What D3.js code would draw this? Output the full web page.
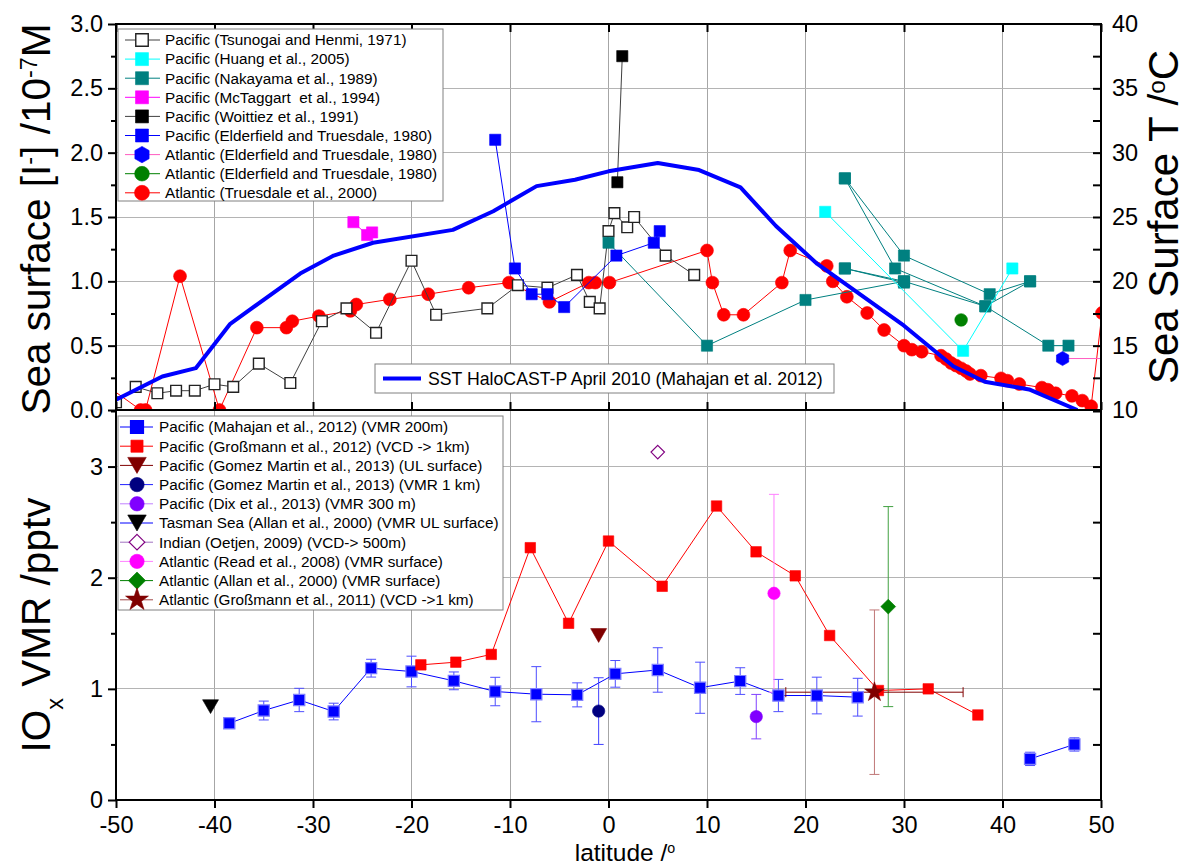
<!DOCTYPE html>
<html>
<head>
<meta charset="utf-8">
<script src="https://cdn.jsdelivr.net/npm/d3@7"></script>
<style>
  body { margin: 0; background: #fff; }
  svg { display: block; font-family: "Liberation Sans", Arial, Helvetica, sans-serif; }
</style>
</head>
<body>
<svg id="chart" width="1188" height="866"></svg>
<script>
// ---------------- data ----------------
// axis ticks
const latTicks = [-50, -40, -30, -20, -10, 0, 10, 20, 30, 40, 50];
const iodideTicks = [0, 0.5, 1.0, 1.5, 2.0, 2.5, 3.0];
const iodideMinor = [0.25, 0.75, 1.25, 1.75, 2.25, 2.75];
const sstTicks = [10, 15, 20, 25, 30, 35, 40];
const sstMinor = [12.5, 17.5, 22.5, 27.5, 32.5, 37.5];
const ioxTicks = [0, 1, 2, 3];
const ioxMinor = [0.5, 1.5, 2.5, 3.5];

// upper panel: sea-surface iodide [lat, 1e-7 M]
const tsunogai1971 = [[-50,0.06],[-48,0.18],[-45.8,0.13],[-43.9,0.15],[-42,0.15],[-40,0.2],[-38.1,0.18],
  [-35.5,0.36],[-32.3,0.21],[-29.1,0.69],[-26.6,0.79],[-23.6,0.6],[-20,1.16],[-17.5,0.74],[-12.3,0.79],
  [-9.2,0.97],[-6.2,0.95],[-3.2,1.05],[-1.9,0.84],[-0.9,0.79],[0,1.39],[0.6,1.53],[1.9,1.42],[2.6,1.5],
  [5.8,1.2],[8.7,1.05]];
const huang2005 = [[22,1.54],[36,0.46],[41,1.1]];
const nakayama1989 = [
  [[0,1.3],[10,0.5],[20,0.855],[30,1.0]],
  [[24,1.8],[29.1,1.1],[38.26,0.806],[42.8,1.0]],
  [[24,1.8],[30,1.2],[38.7,0.9],[42.8,1.0]],
  [[24,1.1],[30,1.0],[38.26,0.806],[44.65,0.5],[46.7,0.5]],
  [[24,1.1],[30,0.99]]
];
const mctaggart1994 = [[-25.9,1.46],[-24.5,1.36],[-24.0,1.38]];
const woittiez1991 = [[0.9,1.77],[1.4,2.75]];
const elderfieldPacific = [[-11.5,2.1],[-9.5,1.1],[-7.8,0.9],[-6.2,0.9],[-4.5,0.8],[0.8,1.2],[4.6,1.3],[5.2,1.39]];
const elderfieldAtlanticHex = [[46.1,0.4],[52,0.4]];
const elderfieldAtlanticDot = [[35.8,0.7]];
const truesdale2000 = [[-50.6,0.17],[-47.5,0],[-47.0,0],[-43.5,1.04],[-39.5,0],[-35.7,0.64],[-32.7,0.64],
  [-32.1,0.69],[-29.4,0.73],[-26.2,0.77],[-25.6,0.82],[-22.2,0.86],[-18.3,0.9],[-14.2,0.95],[-10.1,0.99],
  [-6.0,0.84],[-2.0,0.99],[-1.35,0.99],[0.1,0.99],[10.0,1.24],[10.55,0.99],[11.7,0.74],[13.7,0.74],
  [17.6,0.99],[18.45,1.24],[22.16,1.12],[22.77,1.0],[24.2,0.88],[26.26,0.754],[27.98,0.622],[30.0,0.5],
  [30.8,0.469],[31.8,0.453],[33.76,0.422],[34.27,0.396],[34.78,0.365],[35.29,0.345],[35.8,0.324],
  [36.3,0.303],[36.7,0.28],[37.8,0.267],[39.85,0.246],[40.5,0.228],[41.7,0.202],[44.0,0.174],[44.6,0.158],
  [45.4,0.13],[47.05,0.11],[48.1,0.073],[49.0,0.029],[50.1,0.754]];
// sea-surface temperature along the cruise [lat, deg C]
const sstHaloCAST = [[-50,10.8],[-45.3,12.6],[-41.9,13.25],[-38.4,16.7],[-31.3,20.6],[-27.9,22.0],[-23.9,23.0],
  [-15.8,24.0],[-11.7,25.45],[-7.3,27.4],[-3.4,27.9],[0,28.55],[5,29.2],[9.2,28.65],[13.4,27.3],[17,24.3],
  [21.2,21.35],[30,16.55],[35,13.4],[38.2,12.2],[42.7,11.6],[47.6,10.0]];

// lower panel: IOx mixing ratios [lat, pptv, error]
const mahajan2012 = [[-38.5,0.69,0],[-35.0,0.805,0.085],[-31.4,0.9,0.105],[-27.9,0.796,0.075],[-24.1,1.186,0.08],
  [-20.0,1.156,0.138],[-15.7,1.072,0.08],[-11.5,0.976,0.128],[-7.33,0.952,0.248],[-3.18,0.946,0.108],
  [0.69,1.135,0.12],[5.0,1.17,0.2],[9.3,1.01,0.23],[13.37,1.07,0.12],[17.25,0.94,0.145],[21.15,0.94,0.165],
  [25.3,0.925,0.17],null,[42.8,0.37,0.06],[47.3,0.5,0.06]];
const grossmann2012 = [[-19.05,1.216],[-15.5,1.24],[-11.9,1.31],[-7.94,2.27],[-4.05,1.59],[0,2.33],[5.45,1.923],
  [10.97,2.645],[14.98,2.233],[18.96,2.017],[22.45,1.48],[27.4,0.985],[32.46,1.0],[37.5,0.765]];
const gomezMartinUL = [[-1.0,1.48]];
const gomezMartin1km = [[-1.0,0.8,0.5,1.1]];      // lat, value, lower, upper
const dix2013 = [[15.0,0.75,0.2]];
const allanTasman = [[-40.4,0.84]];
const oetjen2009 = [[5.0,3.13]];
const read2008 = [[16.8,1.86,0.89]];
const allanAtlantic = [[28.4,1.74,0.9]];
const grossmann2011 = [[27.0,0.97,0.74,9.0]];     // lat, value, y error, lat error

const topLegendLabels = [
  "Pacific (Tsunogai and Henmi, 1971)", "Pacific (Huang et al., 2005)", "Pacific (Nakayama et al., 1989)",
  "Pacific (McTaggart  et al., 1994)", "Pacific (Woittiez et al., 1991)", "Pacific (Elderfield and Truesdale, 1980)",
  "Atlantic (Elderfield and Truesdale, 1980)", "Atlantic (Elderfield and Truesdale, 1980)", "Atlantic (Truesdale et al., 2000)"];
const bottomLegendLabels = [
  "Pacific (Mahajan et al., 2012) (VMR 200m)", "Pacific (Großmann et al., 2012) (VCD -> 1km)",
  "Pacific (Gomez Martin et al., 2013) (UL surface)", "Pacific (Gomez Martin et al., 2013) (VMR 1 km)",
  "Pacific (Dix et al., 2013) (VMR 300 m)", "Tasman Sea (Allan et al., 2000) (VMR UL surface)",
  "Indian (Oetjen, 2009) (VCD-> 500m)", "Atlantic (Read et al., 2008) (VMR surface)",
  "Atlantic (Allan et al., 2000) (VMR surface)", "Atlantic (Großmann et al., 2011) (VCD ->1 km)"];
const sstLegendLabel = "SST HaloCAST-P April 2010 (Mahajan et al. 2012)";

// ---------------- layout ----------------
const svg = d3.select("#chart");
const X0 = 116, X1 = 1101, YT = 24, YM = 410, YB = 800;
const x = d3.scaleLinear().domain([-50, 50]).range([X0, X1]);
const yI = d3.scaleLinear().domain([0, 3]).range([YM, YT]);
const yT = d3.scaleLinear().domain([10, 40]).range([YM, YT]);
const yV = d3.scaleLinear().domain([0, 3.5]).range([YB, 411]);

// marker shapes
const hexagon = { draw(ctx, size) {
  const r = Math.sqrt(size / 2.598);
  for (let i = 0; i < 6; i++) { const a = Math.PI / 2 + i * Math.PI / 3;
    const px = r * Math.cos(a), py = r * Math.sin(a); i ? ctx.lineTo(px, py) : ctx.moveTo(px, py); }
  ctx.closePath(); } };
const triangleDown = { draw(ctx, size) {
  const s = Math.sqrt(size * 4 / Math.sqrt(3)), h = s * Math.sqrt(3) / 2;
  ctx.moveTo(-s / 2, -h / 2); ctx.lineTo(s / 2, -h / 2); ctx.lineTo(0, h / 2); ctx.closePath(); } };
const rhombus = { draw(ctx, size) {
  const r = Math.sqrt(size / 2);
  ctx.moveTo(0, -r); ctx.lineTo(r, 0); ctx.lineTo(0, r); ctx.lineTo(-r, 0); ctx.closePath(); } };

const st = {
  tsunogai:  { line: "#404040", sym: d3.symbolSquare, size: 115, fill: "#fff", stroke: "#222", sw: 1.4 },
  huang:     { line: "#00ffff", sym: d3.symbolSquare, size: 125, fill: "#00ffff" },
  nakayama:  { line: "#008080", sym: d3.symbolSquare, size: 125, fill: "#008080" },
  mctaggart: { line: "#ff00ff", sym: d3.symbolSquare, size: 125, fill: "#ff00ff" },
  woittiez:  { line: "#404040", sym: d3.symbolSquare, size: 125, fill: "#000" },
  elderPac:  { line: "#0000ff", sym: d3.symbolSquare, size: 125, fill: "#0000ff" },
  elderHex:  { line: "#ff5cc0", sym: hexagon, size: 130, fill: "#0000ff" },
  elderDot:  { line: "#008000", sym: d3.symbolCircle, size: 125, fill: "#008000" },
  truesdale: { line: "#ff0000", sym: d3.symbolCircle, size: 130, fill: "#ff0000" },
  mahajan:   { line: "#0000ff", sym: d3.symbolSquare, size: 125, fill: "#0000ff", stroke: "#8080ff", sw: 1.2, err: "#4d4dff" },
  gross12:   { line: "#ff0000", sym: d3.symbolSquare, size: 110, fill: "#ff0000" },
  gomezUL:   { line: "#800000", sym: triangleDown, size: 110, fill: "#800000" },
  gomez1km:  { line: "#2020ff", sym: d3.symbolCircle, size: 120, fill: "#000080", err: "#4040ff" },
  dix:       { line: "#c080ff", sym: d3.symbolCircle, size: 120, fill: "#8000ff", err: "#8040ff" },
  tasman:    { line: "#0000ff", sym: triangleDown, size: 110, fill: "#000" },
  oetjen:    { line: "#a070c0", sym: rhombus, size: 90, fill: "#fff", stroke: "#800080", sw: 1.2 },
  read:      { line: "#ff80ff", sym: d3.symbolCircle, size: 120, fill: "#ff00ff", err: "#ff80ff" },
  allan:     { line: "#008000", sym: rhombus, size: 110, fill: "#008000", err: "#40a040" },
  gross11:   { line: "#a04848", sym: d3.symbolStar, size: 120, fill: "#800000", err: "#c07878", errX: "#800000" }
};

// ---------------- grid ----------------
const grid = svg.append("g").attr("shape-rendering", "crispEdges");
latTicks.slice(1, -1).forEach(v => grid.append("line")
  .attr("x1", x(v)).attr("x2", x(v)).attr("y1", YT).attr("y2", YB).attr("stroke", "#a6a6a6"));
iodideTicks.slice(1, -1).forEach(v => grid.append("line")
  .attr("x1", X0).attr("x2", X1).attr("y1", yI(v)).attr("y2", yI(v)).attr("stroke", "#b4b4b4"));
[1, 2, 3].forEach(v => grid.append("line")
  .attr("x1", X0).attr("x2", X1).attr("y1", yV(v)).attr("y2", yV(v)).attr("stroke", "#b4b4b4"));

// clipping
const defs = svg.append("defs");
defs.append("clipPath").attr("id", "clipTop").append("rect").attr("x", X0).attr("y", YT).attr("width", X1 - X0).attr("height", YM - YT);
defs.append("clipPath").attr("id", "clipBot").append("rect").attr("x", X0).attr("y", YM).attr("width", X1 - X0).attr("height", YB - YM);

function drawLine(g, pts, ys, s, lw) {
  g.append("path").datum(pts)
    .attr("d", d3.line().defined(d => d != null).x(d => x(d[0])).y(d => ys(d[1])))
    .attr("fill", "none").attr("stroke", s.line).attr("stroke-width", lw || 1);
}
function drawMarks(g, pts, ys, s) {
  g.selectAll(null).data(pts.filter(d => d != null)).join("path")
    .attr("transform", d => `translate(${x(d[0])},${ys(d[1])})`)
    .attr("d", d3.symbol().type(s.sym).size(s.size))
    .attr("fill", s.fill).attr("stroke", s.stroke || s.fill).attr("stroke-width", s.sw || 0.6);
}
function drawSeries(g, pts, ys, s) { drawLine(g, pts, ys, s); drawMarks(g, pts, ys, s); }
function vErr(g, lat, lo, hi, ys, color) {
  const px = x(lat);
  g.append("line").attr("x1", px).attr("x2", px).attr("y1", ys(lo)).attr("y2", ys(hi)).attr("stroke", color);
  [lo, hi].forEach(v => g.append("line").attr("x1", px - 5).attr("x2", px + 5)
    .attr("y1", ys(v)).attr("y2", ys(v)).attr("stroke", color));
}

// ---------------- upper panel ----------------
const topG = svg.append("g").attr("clip-path", "url(#clipTop)");
drawSeries(topG, truesdale2000, yI, st.truesdale);
drawSeries(topG, tsunogai1971, yI, st.tsunogai);
nakayama1989.forEach(track => drawLine(topG, track, yI, st.nakayama));
drawMarks(topG, nakayama1989.flat(), yI, st.nakayama);
drawSeries(topG, huang2005, yI, st.huang);
drawSeries(topG, mctaggart1994, yI, st.mctaggart);
drawSeries(topG, elderfieldPacific, yI, st.elderPac);
drawSeries(topG, elderfieldAtlanticHex, yI, st.elderHex);
drawSeries(topG, elderfieldAtlanticDot, yI, st.elderDot);
drawSeries(topG, woittiez1991, yI, st.woittiez);
topG.append("path").datum(sstHaloCAST)
  .attr("d", d3.line().x(d => x(d[0])).y(d => yT(d[1])))
  .attr("fill", "none").attr("stroke", "#0000ff").attr("stroke-width", 4).attr("stroke-linejoin", "round");

// ---------------- lower panel ----------------
const botG = svg.append("g").attr("clip-path", "url(#clipBot)");
mahajan2012.filter(d => d && d[2] > 0).forEach(d => vErr(botG, d[0], d[1] - d[2], d[1] + d[2], yV, st.mahajan.err));
drawLine(botG, mahajan2012, yV, st.mahajan);
drawLine(botG, grossmann2012, yV, st.gross12);
read2008.forEach(d => vErr(botG, d[0], d[1] - d[2], d[1] + d[2], yV, st.read.err));
allanAtlantic.forEach(d => vErr(botG, d[0], d[1] - d[2], d[1] + d[2], yV, st.allan.err));
dix2013.forEach(d => vErr(botG, d[0], d[1] - d[2], d[1] + d[2], yV, st.dix.err));
gomezMartin1km.forEach(d => vErr(botG, d[0], d[2], d[3], yV, st.gomez1km.err));
grossmann2011.forEach(d => {
  vErr(botG, d[0], d[1] - d[2], d[1] + d[2], yV, st.gross11.err);
  const py = yV(d[1]);
  botG.append("line").attr("x1", x(d[0] - d[3])).attr("x2", x(d[0] + d[3])).attr("y1", py).attr("y2", py).attr("stroke", st.gross11.errX);
  [d[0] - d[3], d[0] + d[3]].forEach(v => botG.append("line").attr("x1", x(v)).attr("x2", x(v))
    .attr("y1", py - 5).attr("y2", py + 5).attr("stroke", st.gross11.errX));
});
drawMarks(botG, mahajan2012, yV, st.mahajan);
drawMarks(botG, grossmann2012, yV, st.gross12);
drawMarks(botG, gomezMartinUL, yV, st.gomezUL);
drawMarks(botG, gomezMartin1km, yV, st.gomez1km);
drawMarks(botG, dix2013, yV, st.dix);
drawMarks(botG, allanTasman, yV, st.tasman);
drawMarks(botG, oetjen2009, yV, st.oetjen);
drawMarks(botG, read2008, yV, st.read);
drawMarks(botG, allanAtlantic, yV, st.allan);
drawMarks(botG, grossmann2011, yV, st.gross11);

// ---------------- axes ----------------
const TICK_FONT = 23.5;
const plainNum = d => String(d);          // hyphen-minus, as on the printed axis
function styleAxis(g) {
  g.select(".domain").remove();
  g.selectAll(".tick line").attr("stroke", "#000").attr("stroke-width", 2);
  g.selectAll(".tick text").attr("fill", "#000").style("font-size", TICK_FONT + "px")
    .style("font-family", '"Liberation Sans", Arial, sans-serif');
}
const ax = svg.append("g");
ax.append("g").attr("transform", `translate(${X0},0)`)
  .call(d3.axisLeft(yI).tickValues(iodideTicks).tickFormat(d3.format(".1f")).tickSize(8).tickPadding(5)).call(styleAxis);
ax.append("g").attr("transform", `translate(${X0},0)`)
  .call(d3.axisLeft(yI).tickValues(iodideMinor).tickFormat("").tickSize(5)).call(styleAxis);
ax.append("g").attr("transform", `translate(${X1},0)`)
  .call(d3.axisRight(yT).tickValues(sstTicks).tickFormat(plainNum).tickSize(-8).tickPadding(11)).call(styleAxis);
ax.append("g").attr("transform", `translate(${X1},0)`)
  .call(d3.axisRight(yT).tickValues(sstMinor).tickFormat("").tickSize(-8)).call(styleAxis);
ax.append("g").attr("transform", `translate(0,${YT})`)
  .call(d3.axisTop(x).tickValues(latTicks).tickFormat("").tickSize(-8)).call(styleAxis);
ax.append("g").attr("transform", `translate(0,${YM})`)
  .call(d3.axisBottom(x).tickValues(latTicks).tickFormat("").tickSize(-8)).call(styleAxis);
ax.append("g").attr("transform", `translate(${X0},0)`)
  .call(d3.axisLeft(yV).tickValues(ioxTicks).tickFormat(plainNum).tickSize(8).tickPadding(5)).call(styleAxis);
ax.append("g").attr("transform", `translate(${X0},0)`)
  .call(d3.axisLeft(yV).tickValues(ioxMinor).tickFormat("").tickSize(5)).call(styleAxis);
ax.append("g").attr("transform", `translate(${X1},0)`)
  .call(d3.axisRight(yV).tickValues(d3.range(0.5, 3.51, 0.5)).tickFormat("").tickSize(-8)).call(styleAxis);
ax.append("g").attr("transform", `translate(0,${YB})`)
  .call(d3.axisBottom(x).tickValues(latTicks).tickFormat(plainNum).tickSize(8).tickPadding(8)).call(styleAxis);

// frame
const frame = svg.append("g").attr("stroke", "#000").attr("stroke-width", 2).attr("fill", "none");
frame.append("rect").attr("x", X0).attr("y", YT).attr("width", X1 - X0).attr("height", YB - YT);
frame.append("line").attr("x1", X0).attr("x2", X1).attr("y1", YM).attr("y2", YM);

// ---------------- axis titles ----------------
function richText(g, parts, size) {
  const t = g.append("text").style("font-size", size + "px").attr("fill", "#000");
  parts.forEach(p => {
    const s = t.append("tspan").text(p.t);
    if (p.sup) s.attr("baseline-shift", "super").style("font-size", (size * 0.58) + "px");
    if (p.sub) s.attr("baseline-shift", "sub").style("font-size", (size * 0.58) + "px");
  });
  return t;
}
richText(svg.append("g").attr("transform", "translate(50,219) rotate(-90)"),
  [{ t: "Sea surface [I" }, { t: "-", sup: 1 }, { t: "] /10" }, { t: "-7", sup: 1 }, { t: "M" }], 40.5)
  .attr("text-anchor", "middle");
richText(svg.append("g").attr("transform", "translate(50,625) rotate(-90)"),
  [{ t: "IO" }, { t: "x", sub: 1 }, { t: " VMR /pptv" }], 40.5).attr("text-anchor", "middle");
richText(svg.append("g").attr("transform", "translate(1178,217) rotate(-90)"),
  [{ t: "Sea Surface T /" }, { t: "o", sup: 1 }, { t: "C" }], 42).attr("text-anchor", "middle");
richText(svg.append("g").attr("transform", "translate(625,860.5)"),
  [{ t: "latitude /" }, { t: "o", sup: 1 }], 24.5).attr("text-anchor", "middle");

// ---------------- legends ----------------
const LEG_FONT = 15.3;
function legend(x0, y0, w, h, rowY, rowH, lineX, symX, textX, labels, styles) {
  const g = svg.append("g");
  g.append("rect").attr("x", x0).attr("y", y0).attr("width", w).attr("height", h)
    .attr("fill", "#fff").attr("stroke", "#808080").attr("stroke-width", 1);
  labels.forEach((lab, i) => {
    const cy = rowY + i * rowH, s = styles[i];
    g.append("line").attr("x1", lineX[0]).attr("x2", lineX[1]).attr("y1", cy).attr("y2", cy)
      .attr("stroke", s.line).attr("stroke-width", 1);
    g.append("path").attr("transform", `translate(${symX},${cy})`)
      .attr("d", d3.symbol().type(s.sym).size(s.size * 1.35))
      .attr("fill", s.fill).attr("stroke", s.fill === "#fff" ? s.stroke : s.fill).attr("stroke-width", s.sw || 0.6);
    g.append("text").attr("x", textX).attr("y", cy).attr("dy", "0.35em").style("white-space", "pre")
      .style("font-size", LEG_FONT + "px").attr("fill", "#000").text(lab);
  });
}
legend(118, 29, 325, 172, 40, 19.1, [125, 160], 142, 165, topLegendLabels,
  [st.tsunogai, st.huang, st.nakayama, st.mctaggart, st.woittiez, st.elderPac, st.elderHex, st.elderDot, st.truesdale]);
legend(118, 416, 385, 194, 427, 19.2, [120, 153], 137, 159, bottomLegendLabels,
  [st.mahajan, st.gross12, st.gomezUL, st.gomez1km, st.dix, st.tasman, st.oetjen, st.read, st.allan, st.gross11]);

// SST legend
const sl = svg.append("g");
sl.append("rect").attr("x", 375).attr("y", 364).attr("width", 459).attr("height", 29)
  .attr("fill", "#fff").attr("stroke", "#808080");
sl.append("line").attr("x1", 383).attr("x2", 421).attr("y1", 378.5).attr("y2", 378.5)
  .attr("stroke", "#0000ff").attr("stroke-width", 4);
sl.append("text").attr("x", 428).attr("y", 378.5).attr("dy", "0.35em")
  .style("font-size", "17.7px").attr("fill", "#000").text(sstLegendLabel);
</script>
</body>
</html>
